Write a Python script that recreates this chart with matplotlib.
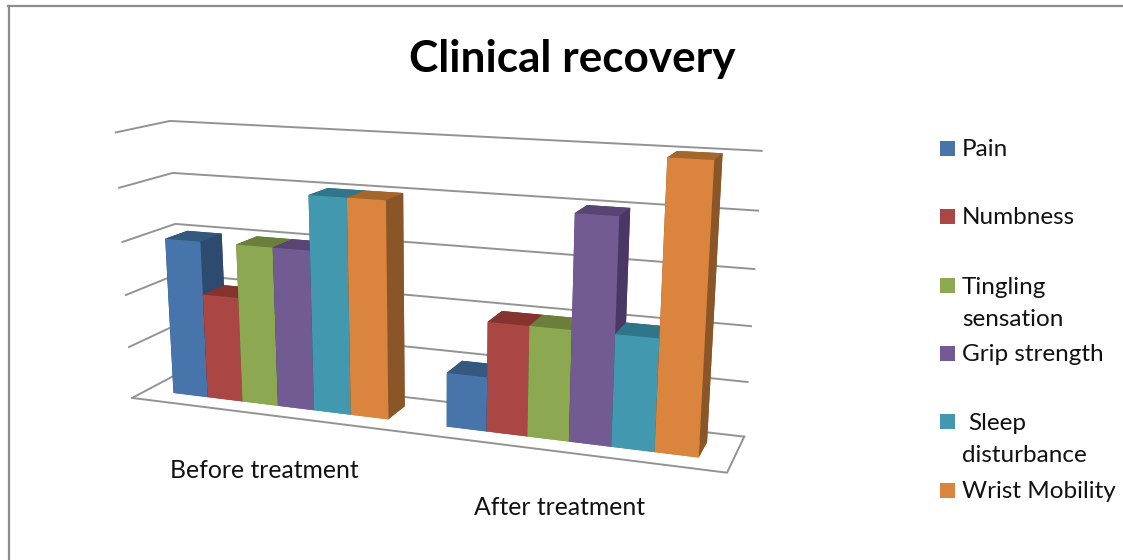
import numpy as np
import matplotlib
matplotlib.use("Agg")
import matplotlib.pyplot as plt
from matplotlib.lines import Line2D
from matplotlib.patches import Rectangle

# Chart data
categories = ["Before treatment", "After treatment"]
series_names = ["Pain", "Numbness", "Tingling sensation", "Grip strength", "Sleep disturbance", "Wrist Mobility"]
pain = [3.0, 1.0]
numbness = [2.0, 2.0]
tingling = [3.0, 2.0]
grip = [3.0, 4.0]
sleep = [4.0, 2.0]
wrist = [4.0, 5.0]
gridline_values = [0, 1, 2, 3, 4, 5]

W, H = 1123, 560
fig = plt.figure(figsize=(W / 100, H / 100), dpi=100, facecolor="white")
plt.rcParams["font.family"] = ["Lato", "DejaVu Sans"]


def fx(px):
    return px / W


def fy(py):
    return 1 - py / H


# Camera: world axes are category position (0-2), depth (0-1), value (0-5).
# The matrix is solved from where the plot box corners sit on the canvas.
box_world = [(0, 0, 0), (2, 0, 0), (2, 1, 0), (0, 1, 0), (0, 0, 5), (0, 1, 5), (2, 1, 5)]
box_canvas = [(132, 396), (727.3, 474), (744, 435.3), (183, 373), (115.7, 133.3), (170, 120), (761.7, 151)]
rows, rhs = [], []
for (a, b, c), (u, v) in zip(box_world, box_canvas):
    rows.append([a, b, c, 1, 0, 0, 0, 0, -u * a, -u * b, -u * c])
    rows.append([0, 0, 0, 0, a, b, c, 1, -v * a, -v * b, -v * c])
    rhs += [u, v]
sol = np.linalg.lstsq(np.array(rows, float), np.array(rhs, float), rcond=None)[0]
camera = np.append(sol, 1.0).reshape(3, 4)

side = W / H
ax = fig.add_axes([0, 0.5 - side / 2, 1, side], projection="3d", computed_zorder=False)
ax.set_axis_off()
ax.patch.set_visible(False)
ax.apply_aspect()

# Canvas position (y down) to the axes' own 2D coordinates
inv = ax.transData.inverted()
o = inv.transform((0, H))
ex = inv.transform((1, H)) - o
ey = inv.transform((0, H - 1)) - o
canvas_to_data = np.array([[ex[0], ey[0], o[0]], [ex[1], ey[1], o[1]], [0, 0, 1]])
top = canvas_to_data @ camera
# The third row only orders faces by depth; lines need it to stay negative.
proj = np.vstack([top[0], top[1], [0, 0.4, 0, -1], top[2]])
ax.get_proj = lambda: proj

GRID = "#939393"
LW = 1.4
x_end, y_end = 2, 1
for z in gridline_values:
    ax.plot([0, 0, x_end], [0, y_end, y_end], [z, z, z], color=GRID, lw=LW, zorder=1)
ax.plot([0, x_end, x_end], [0, 0, y_end], [0, 0, 0], color=GRID, lw=LW, zorder=1)

front = ["#4674ab", "#aa4643", "#8ca850", "#725a93", "#4198af", "#db843d"]
topc = ["#35587f", "#84332f", "#6b7f3b", "#584573", "#31758a", "#a5662b"]
sidec = ["#2d4a6f", "#6f2a28", "#5a6b32", "#4a3765", "#296376", "#8b5627"]
values = [pain, numbness, tingling, grip, sleep, wrist]

group_left = [0.102, 1.096]
group_right = [0.895, 1.90]
depth_front, depth_back = 0.29, 0.72
order = 10
for c in range(len(categories)):
    bw = (group_right[c] - group_left[c]) / len(values)
    for s, vals in enumerate(values):
        # face order: bottom, top, front, back, left, right
        faces = [front[s], topc[s], front[s], sidec[s], sidec[s], sidec[s]]
        ax.bar3d(group_left[c] + s * bw, depth_front, 0, bw, depth_back - depth_front, vals[c],
                 color=faces, shade=False, linewidth=0, zorder=order)
        order += 1

# Outer chart border (top and left edges fall inside the canvas)
fig.add_artist(Line2D([fx(9), fx(9)], [fy(560), fy(5.5)], color="#8c8c8c", lw=1.6))
fig.add_artist(Line2D([fx(8), fx(1123)], [fy(5.5), fy(5.5)], color="#8c8c8c", lw=1.6))

fig.text(fx(572.5), fy(59), "Clinical recovery", fontsize=31.8, fontweight="bold", color="black",
         ha="center", va="center")

TEXT = 17.5
AXIS_TEXT = 17.8
fig.text(fx(264.5), fy(470.5), categories[0], fontsize=AXIS_TEXT, ha="center", va="center", color="#111111")
fig.text(fx(560), fy(507.5), categories[1], fontsize=AXIS_TEXT, ha="center", va="center", color="#111111")

swatch_tops = [141, 209, 278, 346, 414, 483]
legend_lines = [
    [("Pain", 962, 150)],
    [("Numbness", 962, 218)],
    [("Tingling", 962, 287), ("sensation", 962, 319)],
    [("Grip strength", 962, 354.5)],
    [("Sleep", 968, 423.5), ("disturbance", 962, 455)],
    [("Wrist Mobility", 962, 491.5)],
]
for s, t in enumerate(swatch_tops):
    fig.add_artist(Rectangle((fx(940), fy(t + 15)), 15 / W, 15 / H, color=front[s], lw=0, transform=fig.transFigure))
    for label, lx, ly in legend_lines[s]:
        fig.text(fx(lx), fy(ly), label, fontsize=TEXT, ha="left", va="center", color="#111111")

fig.savefig("out.png", dpi=100, facecolor="white")
